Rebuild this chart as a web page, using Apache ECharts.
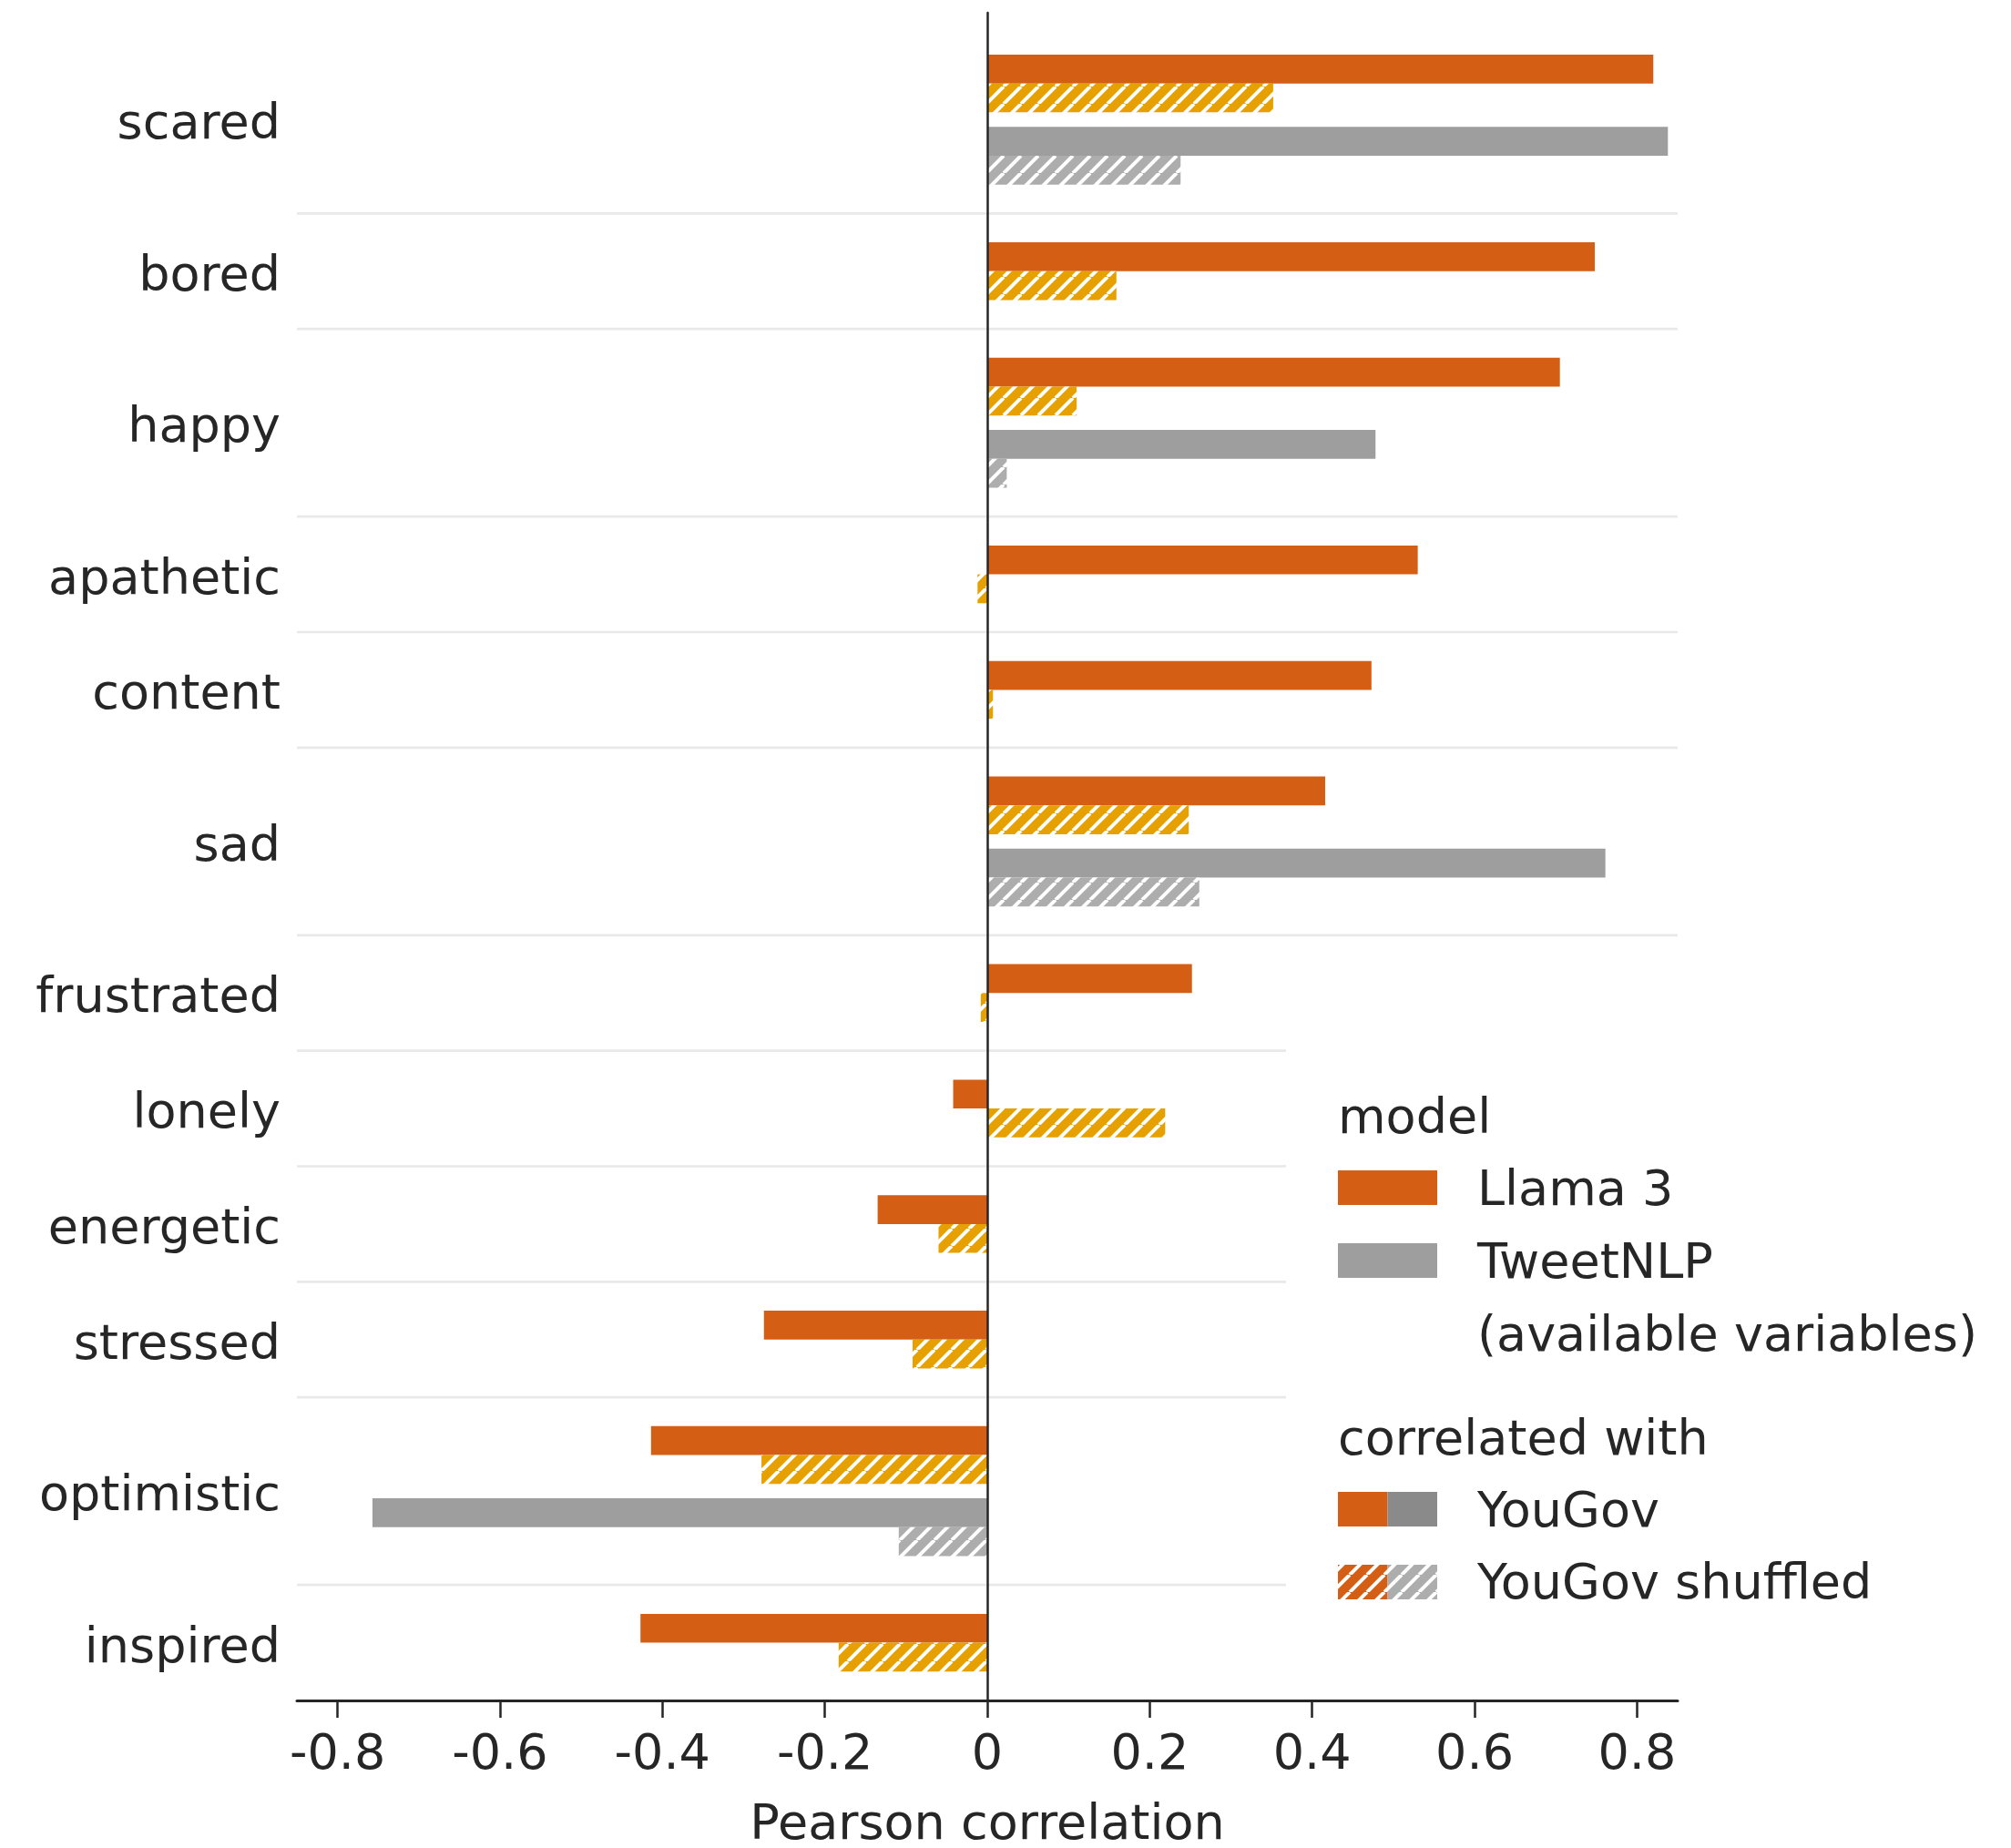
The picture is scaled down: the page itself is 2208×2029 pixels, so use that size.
<!DOCTYPE html>
<html>
<head>
<meta charset="utf-8">
<script src="https://cdn.jsdelivr.net/npm/echarts@6/dist/echarts.min.js"></script>
<style>
  html, body { margin: 0; padding: 0; background: #fff; }
  #chart { width: 2208px; height: 2029px; }
</style>
</head>
<body>
<div id="chart"></div>
<script>
// emotions, top to bottom
var categories = ['scared', 'bored', 'happy', 'apathetic', 'content', 'sad',
    'frustrated', 'lonely', 'energetic', 'stressed', 'optimistic', 'inspired'];

// Pearson correlation with YouGov / shuffled YouGov
var llama = [0.820, 0.748, 0.705, 0.530, 0.473, 0.416, 0.252, -0.042, -0.135, -0.275, -0.414, -0.427];
var llamaShuffled = [0.352, 0.159, 0.110, -0.012, 0.007, 0.248, -0.008, 0.219, -0.060, -0.092, -0.278, -0.183];
// TweetNLP only has some of the variables
var tweetnlp = [0.838, null, 0.478, null, null, 0.761, null, null, null, null, -0.757, null];
var tweetnlpShuffled = [0.238, null, 0.024, null, null, 0.261, null, null, null, null, -0.109, null];

var xTicks = [-0.8, -0.6, -0.4, -0.2, 0, 0.2, 0.4, 0.6, 0.8];

var FONT = '"DejaVu Sans", "Noto Sans", sans-serif';
var TEXT = '#262626';
var ORANGE = '#d45f14';
var YELLOW = '#e6a000';
var GRAY = '#9e9e9e';
var GRAY_HATCH = '#adadad';
var GRAY_DARK = '#8a8a8a';

function hatch(color) {
    var s = 19;
    var c = document.createElement('canvas');
    c.width = s;
    c.height = s;
    var ctx = c.getContext('2d');
    ctx.fillStyle = color;
    ctx.fillRect(0, 0, s, s);
    ctx.strokeStyle = '#ffffff';
    ctx.lineWidth = 4;
    ctx.beginPath();
    for (var k = -1; k <= 1; k++) {
        ctx.moveTo(k * s, s);
        ctx.lineTo(k * s + s, 0);
    }
    ctx.stroke();
    return {image: c, repeat: 'repeat'};
}

// row layout in "bar" units: pad, bars, (gap, bars), pad
var pad = 1, gap = 0.5;
var rowTop = [], rowH = [];
var acc = 0;
categories.forEach(function (c, i) {
    var h = 2 * pad + 2 + (tweetnlp[i] != null ? 2 + gap : 0);
    rowTop.push(acc);
    rowH.push(h);
    acc += h;
});
var yMax = acc;
var yMin = -0.45;
var xMin = -0.85, xMax = 0.85;

function barData(values, offset) {
    var out = [];
    values.forEach(function (v, i) {
        if (v != null) out.push([v, rowTop[i] + pad + offset]);
    });
    return out;
}

function renderBar(fill) {
    return function (params, api) {
        var v = api.value(0), y = api.value(1);
        var a = api.coord([0, y]);
        var b = api.coord([v, y + 1]);
        return {
            type: 'rect',
            shape: {x: Math.min(a[0], b[0]), y: a[1], width: Math.abs(b[0] - a[0]), height: b[1] - a[1]},
            style: {fill: fill}
        };
    };
}

var separators = rowTop.slice(1).map(function (t) { return [xMin, t]; });
var labelData = categories.map(function (c, i) { return [xMin, rowTop[i] + rowH[i] / 2, c]; });

function legendText(x, y, text) {
    return {type: 'text', z: 51, x: x, y: y + 5, style: {
        text: text, font: '54px ' + FONT, fill: TEXT, verticalAlign: 'middle', textVerticalAlign: 'middle'
    }};
}

var myChart = echarts.init(document.getElementById('chart'));

var option = {
    animation: false,
    backgroundColor: '#ffffff',
    grid: {left: 326, right: 366, top: 14, bottom: 162, outerBoundsMode: 'none', containLabel: false},
    xAxis: {
        type: 'value',
        min: xMin,
        max: xMax,
        name: 'Pearson correlation',
        nameLocation: 'middle',
        nameGap: 111,
        nameTextStyle: {fontSize: 54, fontFamily: FONT, color: TEXT},
        axisLine: {show: true, onZero: false, lineStyle: {color: TEXT, width: 3}},
        axisTick: {show: true, length: 19, customValues: xTicks, lineStyle: {color: TEXT, width: 2.5}},
        axisLabel: {
            customValues: xTicks,
            margin: 34,
            fontSize: 54,
            fontFamily: FONT,
            color: TEXT,
            formatter: function (v) { return v === 0 ? '0' : v.toFixed(1); }
        },
        splitLine: {show: false}
    },
    yAxis: {
        type: 'value',
        inverse: true,
        min: yMin,
        max: yMax,
        z: 10,
        axisLine: {show: true, onZero: true, lineStyle: {color: TEXT, width: 2.5}},
        axisTick: {show: false},
        axisLabel: {show: false},
        splitLine: {show: false}
    },
    series: [
        {
            type: 'custom',
            name: 'separators',
            z: 1,
            silent: true,
            data: separators,
            renderItem: function (params, api) {
                var a = api.coord([api.value(0), api.value(1)]);
                var b = api.coord([xMax, api.value(1)]);
                return {
                    type: 'line',
                    shape: {x1: a[0], y1: a[1], x2: b[0], y2: b[1]},
                    style: {stroke: '#e9e9e9', lineWidth: 2.7}
                };
            }
        },
        {
            type: 'custom',
            name: 'labels',
            silent: true,
            data: labelData,
            renderItem: function (params, api) {
                var p = api.coord([api.value(0), api.value(1)]);
                return {
                    type: 'text',
                    x: p[0] - 18,
                    y: p[1] + 7,
                    style: {
                        text: labelData[params.dataIndex][2],
                        fill: TEXT,
                        font: '54px ' + FONT,
                        align: 'right',
                        verticalAlign: 'middle'
                    }
                };
            }
        },
        {type: 'custom', name: 'Llama 3', z: 3, data: barData(llama, 0), renderItem: renderBar(ORANGE)},
        {type: 'custom', name: 'Llama 3 shuffled', z: 3, data: barData(llamaShuffled, 1), renderItem: renderBar(hatch(YELLOW))},
        {type: 'custom', name: 'TweetNLP', z: 3, data: barData(tweetnlp, 2 + gap), renderItem: renderBar(GRAY)},
        {type: 'custom', name: 'TweetNLP shuffled', z: 3, data: barData(tweetnlpShuffled, 3 + gap), renderItem: renderBar(hatch(GRAY_HATCH))}
    ],
    graphic: {
        elements: [
            {type: 'rect', z: 50, shape: {x: 1412, y: 1120, width: 796, height: 690}, style: {fill: '#ffffff'}},
            legendText(1469, 1225, 'model'),
            {type: 'rect', z: 51, shape: {x: 1469, y: 1285, width: 109, height: 38}, style: {fill: ORANGE}},
            legendText(1622, 1304, 'Llama 3'),
            {type: 'rect', z: 51, shape: {x: 1469, y: 1365, width: 109, height: 38}, style: {fill: GRAY}},
            legendText(1622, 1384, 'TweetNLP'),
            legendText(1622, 1464, '(available variables)'),
            legendText(1469, 1578, 'correlated with'),
            {type: 'rect', z: 51, shape: {x: 1469, y: 1638, width: 54.5, height: 38}, style: {fill: ORANGE}},
            {type: 'rect', z: 51, shape: {x: 1523.5, y: 1638, width: 54.5, height: 38}, style: {fill: GRAY_DARK}},
            legendText(1622, 1657, 'YouGov'),
            {type: 'rect', z: 51, shape: {x: 1469, y: 1718, width: 54.5, height: 38}, style: {fill: hatch(ORANGE)}},
            {type: 'rect', z: 51, shape: {x: 1523.5, y: 1718, width: 54.5, height: 38}, style: {fill: hatch(GRAY_HATCH)}},
            legendText(1622, 1736, 'YouGov shuffled')
        ]
    }
};

myChart.setOption(option);
</script>
</body>
</html>
